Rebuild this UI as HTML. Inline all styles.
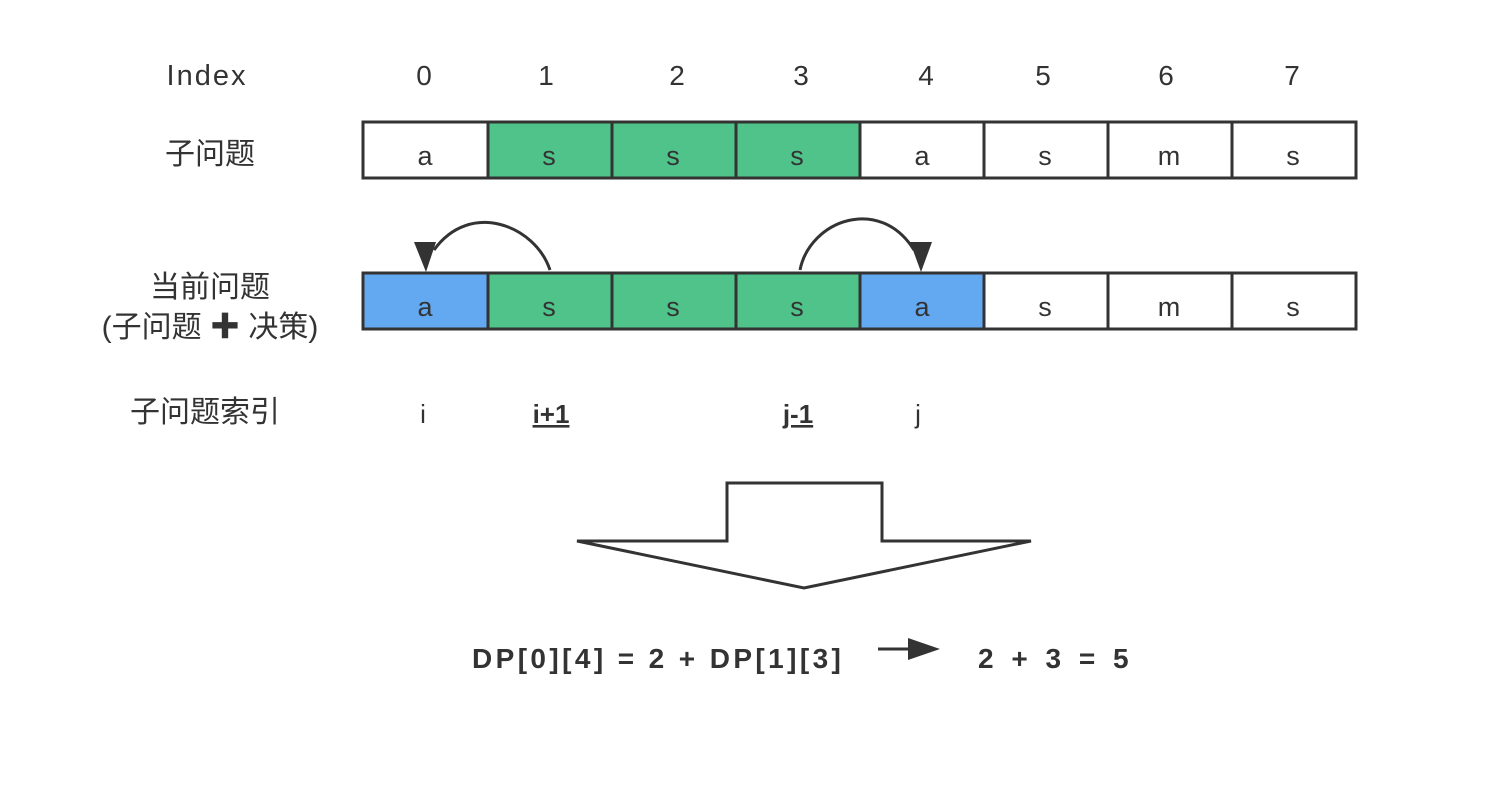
<!DOCTYPE html>
<html><head><meta charset="utf-8"><style>
body{margin:0;background:#fff}
svg text{font-family:"Liberation Sans","Noto Sans CJK SC",sans-serif;fill:#333}
</style></head><body>
<svg width="1502" height="788" xmlns="http://www.w3.org/2000/svg">
<g font-size="28" text-anchor="middle">
<text x="207" y="85" font-size="29" letter-spacing="2">Index</text>
<text x="424" y="85">0</text><text x="546" y="85">1</text><text x="677" y="85">2</text><text x="801" y="85">3</text>
<text x="926" y="85">4</text><text x="1043" y="85">5</text><text x="1166" y="85">6</text><text x="1292" y="85">7</text>
<text x="210" y="164" font-size="30">子问题</text>
<text x="210" y="297" font-size="30">当前问题</text>
<text x="210" y="337" font-size="30">(子问题 ✚ 决策)</text>
<text x="205" y="422" font-size="30">子问题索引</text>
<text x="423" y="423" font-size="26">i</text>
<text x="551" y="423" font-size="26" font-weight="bold" text-decoration="underline">i+1</text>
<text x="798" y="423" font-size="26" font-weight="bold" text-decoration="underline">j-1</text>
<text x="918" y="423" font-size="26">j</text>
</g>
<g stroke="#333" stroke-width="3">
<rect x="363" y="122" width="125" height="56" fill="#fff"/>
<rect x="488" y="122" width="124" height="56" fill="#4fc38a"/>
<rect x="612" y="122" width="124" height="56" fill="#4fc38a"/>
<rect x="736" y="122" width="124" height="56" fill="#4fc38a"/>
<rect x="860" y="122" width="124" height="56" fill="#fff"/>
<rect x="984" y="122" width="124" height="56" fill="#fff"/>
<rect x="1108" y="122" width="124" height="56" fill="#fff"/>
<rect x="1232" y="122" width="124" height="56" fill="#fff"/>
<rect x="363" y="273" width="125" height="56" fill="#63a9f2"/>
<rect x="488" y="273" width="124" height="56" fill="#4fc38a"/>
<rect x="612" y="273" width="124" height="56" fill="#4fc38a"/>
<rect x="736" y="273" width="124" height="56" fill="#4fc38a"/>
<rect x="860" y="273" width="124" height="56" fill="#63a9f2"/>
<rect x="984" y="273" width="124" height="56" fill="#fff"/>
<rect x="1108" y="273" width="124" height="56" fill="#fff"/>
<rect x="1232" y="273" width="124" height="56" fill="#fff"/>
<path d="M550 270 C535 225 470 200 434 250" fill="none"/>
<path d="M800 270 C810 220 880 195 914 250" fill="none"/>
<polygon points="577,541 727,541 727,483 882,483 882,541 1031,541 804,588" fill="#fff"/>
<line x1="878" y1="649" x2="912" y2="649"/>
</g>
<polygon points="414,242 436,242 426,272" fill="#333"/>
<polygon points="910,242 932,242 921,272" fill="#333"/>
<polygon points="908,638 940,649 908,660" fill="#333"/>
<g font-size="27" text-anchor="middle">
<text x="425" y="165">a</text><text x="549" y="165">s</text><text x="673" y="165">s</text><text x="797" y="165">s</text>
<text x="922" y="165">a</text><text x="1045" y="165">s</text><text x="1169" y="165">m</text><text x="1293" y="165">s</text>
<text x="425" y="316">a</text><text x="549" y="316">s</text><text x="673" y="316">s</text><text x="797" y="316">s</text>
<text x="922" y="316">a</text><text x="1045" y="316">s</text><text x="1169" y="316">m</text><text x="1293" y="316">s</text>
</g>
<g font-size="28" font-weight="bold">
<text x="472" y="668" letter-spacing="3.4">DP[0][4] = 2 + DP[1][3]</text>
<text x="978" y="668" letter-spacing="5">2 + 3 = 5</text>
</g>
</svg>
</body></html>
